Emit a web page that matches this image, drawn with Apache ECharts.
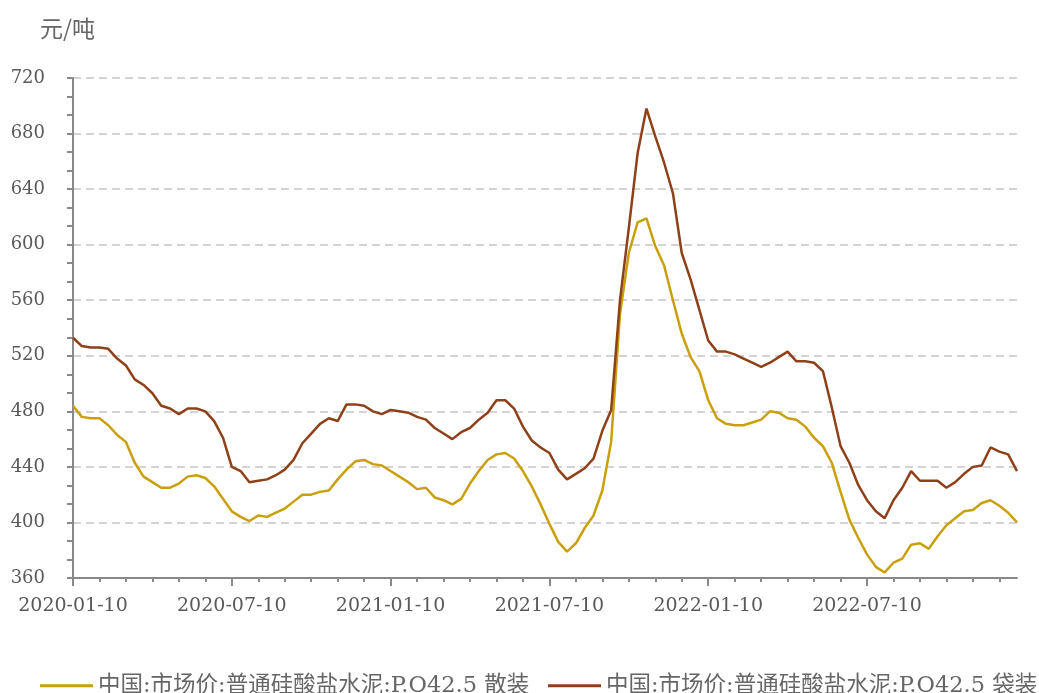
<!DOCTYPE html>
<html>
<head>
<meta charset="utf-8">
<script src="https://cdn.jsdelivr.net/npm/echarts@6/dist/echarts.min.js"></script>
<style>
  html, body { margin: 0; padding: 0; background: #fff; }
  #main { width: 1039px; height: 693px; }
</style>
</head>
<body>
<div id="main"></div>
<script>
// 旬度日期：每月10日、20日、月末
var dates = [];
[2020, 2021, 2022].forEach(function (y) {
  for (var m = 1; m <= 12; m++) {
    var mm = (m < 10 ? '0' : '') + m;
    var last = new Date(y, m, 0).getDate();
    dates.push(y + '-' + mm + '-10', y + '-' + mm + '-20', y + '-' + mm + '-' + last);
  }
});

// 散装
var bulk = [
  484, 476, 475, 475, 470, 463, 458, 443, 433, 429, 425, 425,
  428, 433, 434, 432, 426, 417, 408, 404, 401, 405, 404, 407,
  410, 415, 420, 420, 422, 423, 431, 438, 444, 445, 442, 441,
  437, 433, 429, 424, 425, 418, 416, 413, 417, 428, 437, 445,
  449, 450, 446, 437, 426, 413, 399, 386, 379, 385, 396, 405,
  423, 458, 550, 594, 616, 619, 599, 585, 560, 536, 519, 509,
  488, 475, 471, 470, 470, 472, 474, 480, 479, 475, 474, 469,
  461, 455, 443, 422, 402, 389, 377, 368, 364, 371, 374, 384,
  385, 381, 390, 398, 403, 408, 409, 414, 416, 412, 407, 400
];
// 袋装
var bagged = [
  533, 527, 526, 526, 525, 518, 513, 503, 499, 493, 484, 482,
  478, 482, 482, 480, 473, 461, 440, 437, 429, 430, 431, 434,
  438, 445, 457, 464, 471, 475, 473, 485, 485, 484, 480, 478,
  481, 480, 479, 476, 474, 468, 464, 460, 465, 468, 474, 479,
  488, 488, 482, 469, 459, 454, 450, 438, 431, 435, 439, 446,
  466, 481, 560, 612, 666, 698, 678, 659, 637, 594, 575, 553,
  531, 523, 523, 521, 518, 515, 512, 515, 519, 523, 516, 516,
  515, 509, 483, 455, 443, 427, 416, 408, 403, 416, 425, 437,
  430, 430, 430, 425, 429, 435, 440, 441, 454, 451, 449, 437
];

var yTicks = { min: 360, max: 720, step: 40 };
var names = ['中国:市场价:普通硅酸盐水泥:P.O42.5 散装', '中国:市场价:普通硅酸盐水泥:P.O42.5 袋装'];

var font = '"DejaVu Serif", "Noto Sans CJK SC", serif';
var legendBase = {
  bottom: -4,
  padding: 0,
  itemWidth: 53,
  itemHeight: 3,
  icon: 'rect',
  textStyle: { fontFamily: font, fontSize: 22.5, color: '#666' }
};
var myChart = echarts.init(document.getElementById('main'));
var option = {
  animation: false,
  title: {
    text: '元/吨',
    left: 35,
    top: 12,
    textStyle: { fontFamily: '"Noto Sans CJK SC", sans-serif', fontSize: 23, fontWeight: 'normal', color: '#666' }
  },
  legend: [
    Object.assign({}, legendBase, { left: 40, data: [names[0]] }),
    Object.assign({}, legendBase, { left: 548, data: [names[1]] })
  ],
  grid: { left: 73, right: 22, top: 78, bottom: 115 },
  xAxis: [
    {
      type: 'category',
      boundaryGap: false,
      data: dates,
      axisLine: { lineStyle: { color: '#898989', width: 2 } },
      axisTick: { interval: 2, length: 4, lineStyle: { color: '#898989', width: 2 } },
      axisLabel: {
        interval: 17,
        margin: 19,
        fontFamily: font,
        fontSize: 19,
        color: '#595959'
      },
      splitLine: { show: false }
    },
    {
      type: 'category',
      boundaryGap: false,
      position: 'bottom',
      data: dates,
      axisLine: { show: false },
      axisTick: { interval: 17, length: 8, lineStyle: { color: '#898989', width: 2 } },
      axisLabel: { show: false },
      splitLine: { show: false }
    }
  ],
  yAxis: {
    type: 'value',
    min: yTicks.min,
    max: yTicks.max,
    interval: yTicks.step,
    axisLine: { show: true, lineStyle: { color: '#898989', width: 2 } },
    axisTick: { show: true, length: 6, lineStyle: { color: '#898989', width: 2 } },
    minorTick: { show: true, splitNumber: 3, length: 6, lineStyle: { color: '#898989', width: 2 } },
    axisLabel: { margin: 28, fontFamily: font, fontSize: 18, color: '#595959' },
    splitLine: { lineStyle: { color: '#d4d4d4', width: 2, type: [8, 5] } }
  },
  series: [
    {
      name: names[0],
      type: 'line',
      data: bulk,
      showSymbol: false,
      lineStyle: { color: '#C9A00B', width: 2.5 },
      itemStyle: { color: '#C9A00B' }
    },
    {
      name: names[1],
      type: 'line',
      data: bagged,
      showSymbol: false,
      lineStyle: { color: '#8E4119', width: 2.5 },
      itemStyle: { color: '#8E4119' }
    }
  ]
};
myChart.setOption(option);
</script>
</body>
</html>
